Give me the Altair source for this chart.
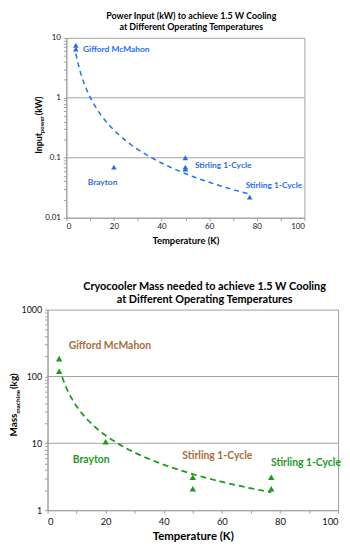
import altair as alt
import pandas as pd

FONT = "Lato"
BLUE = "#1f6fe8"
GREEN = "#1e9a1e"
BROWN = "#a86d3c"
FRAME = "#a0a0a0"

# ---------------- data: power input chart ----------------
power_temp = [4, 4, 20, 50, 50, 50, 77]
power_kw = [7.5, 6.5, 0.07, 0.1, 0.07, 0.065, 0.022]

power_label_text = ["Gifford McMahon", "Brayton", "Stirling 1-Cycle", "Stirling 1-Cycle"]
power_label_temp = [7.0, 9.0, 54.0, 75.3]
power_label_kw = [6.6, 0.040, 0.077, 0.035]

# ---------------- data: mass chart ----------------
mass_temp = [4, 4, 20, 50, 50, 77, 77]
mass_kg = [185, 120, 10.6, 3.1, 2.1, 3.1, 2.1]

mass_brown_text = ["Gifford McMahon", "Stirling 1-Cycle"]
mass_brown_temp = [7.3, 46.4]
mass_brown_kg = [288, 6.4]
mass_green_text = ["Brayton", "Stirling 1-Cycle"]
mass_green_temp = [8.7, 76.9]
mass_green_kg = [5.6, 5.0]

# ---------------- axis ticks ----------------
x_ticks = [0, 10, 20, 30, 40, 50, 60, 70, 80, 90, 100]
power_ticks = [0.01, 0.02, 0.03, 0.04, 0.05, 0.06, 0.07, 0.08, 0.09,
               0.1, 0.2, 0.3, 0.4, 0.5, 0.6, 0.7, 0.8, 0.9,
               1, 2, 3, 4, 5, 6, 7, 8, 9, 10]
power_decades = [0.01, 0.1, 1, 10]
power_grid = [0.1, 1]
mass_ticks = [1, 2, 3, 4, 5, 6, 7, 8, 9,
              10, 20, 30, 40, 50, 60, 70, 80, 90,
              100, 200, 300, 400, 500, 600, 700, 800, 900, 1000]
mass_decades = [1, 10, 100, 1000]
mass_grid = [10, 100]


def log_expr(decades):
    arr = ",".join(repr(d) for d in decades)
    return f"indexof([{arr}], datum.value) >= 0 ? format(datum.value, '~g') : ''"


X_EXPR = "datum.value % 20 == 0 ? format(datum.value, 'd') : ''"

# ======================= TOP CHART =======================
W1, H1 = 241, 182
power_df = pd.DataFrame({"T": power_temp, "P": power_kw})
power_lab_df = pd.DataFrame({"T": power_label_temp, "P": power_label_kw, "label": power_label_text})
power_grid_df = pd.DataFrame({"P": power_grid})

x1 = alt.X("T:Q", scale=alt.Scale(domain=[0, 100], nice=False),
           axis=alt.Axis(values=x_ticks, labelExpr=X_EXPR, title="Temperature (K)",
                         labelFontSize=8, titleFontSize=9.5, titleFontWeight="bold",
                         tickSize=3, labelPadding=2, titlePadding=5, grid=False))
y1 = alt.Y("P:Q", scale=alt.Scale(type="log", domain=[0.01, 10], nice=False),
           axis=alt.Axis(values=power_ticks, labelExpr=log_expr(power_decades),
                         labelFontSize=8, tickSize=3, labelPadding=3, grid=False),
           title=None)

grid1 = alt.Chart(power_grid_df).mark_rule(color=FRAME, strokeWidth=1).encode(y=y1)
curve1 = (alt.Chart(power_df)
          .transform_regression("T", "P", method="pow", extent=[4, 77])
          .mark_line(color=BLUE, strokeWidth=1.5, strokeDash=[5, 4])
          .encode(x=x1, y=y1))
pts1 = alt.Chart(power_df).mark_point(shape="triangle-up", filled=True, opacity=1,
                                       size=32, color=BLUE).encode(x=x1, y=y1)
lab1 = alt.Chart(power_lab_df).mark_text(align="left", baseline="middle", font=FONT,
                                         fontWeight="bold", fontSize=8.5, color=BLUE).encode(
    x=x1, y=y1, text="label:N")

one = pd.DataFrame({"k": [0]})
yc1 = 0.485 * H1
y0_1 = yc1 + 29
t1a = alt.Chart(one).mark_text(text="Input", angle=270, align="left", baseline="middle",
                               font=FONT, fontWeight="bold", fontSize=9, color="black").encode(
    x=alt.value(-28), y=alt.value(y0_1))
t1b = alt.Chart(one).mark_text(text="power", angle=270, align="left", baseline="middle",
                               font=FONT, fontWeight="bold", fontSize=6, color="black").encode(
    x=alt.value(-24.5), y=alt.value(y0_1 - 21))
t1c = alt.Chart(one).mark_text(text="(kW)", angle=270, align="left", baseline="middle",
                               font=FONT, fontWeight="bold", fontSize=9, color="black").encode(
    x=alt.value(-28), y=alt.value(y0_1 - 39))

top = alt.layer(grid1, curve1, pts1, lab1, t1a, t1b, t1c).properties(
    width=W1, height=H1,
    title=alt.TitleParams(["Power Input (kW) to achieve 1.5 W Cooling",
                           "at Different Operating Temperatures"],
                          font=FONT, fontSize=9, fontWeight="bold", color="black",
                          anchor="middle", frame="group", dx=6, offset=2, lineHeight=11))

spacer = alt.Chart(one).mark_point(opacity=0).encode(
    x=alt.X("k:Q", axis=None), y=alt.Y("k:Q", axis=None)).properties(
    width=19, height=1, view=alt.ViewBackground(strokeOpacity=0))

top_row = alt.hconcat(spacer, top, spacing=0, bounds="flush")

# ======================= BOTTOM CHART =======================
W2, H2 = 294, 203
mass_df = pd.DataFrame({"T": mass_temp, "M": mass_kg})
mass_brown_df = pd.DataFrame({"T": mass_brown_temp, "M": mass_brown_kg, "label": mass_brown_text})
mass_green_df = pd.DataFrame({"T": mass_green_temp, "M": mass_green_kg, "label": mass_green_text})
mass_grid_df = pd.DataFrame({"M": mass_grid})

x2 = alt.X("T:Q", scale=alt.Scale(domain=[0, 100], nice=False),
           axis=alt.Axis(values=x_ticks, labelExpr=X_EXPR, title="Temperature (K)",
                         labelFontSize=9.5, titleFontSize=11.5, titleFontWeight="bold",
                         tickSize=3, labelPadding=3, titlePadding=5, grid=False))
y2 = alt.Y("M:Q", scale=alt.Scale(type="log", domain=[1, 1000], nice=False),
           axis=alt.Axis(values=mass_ticks, labelExpr=log_expr(mass_decades),
                         labelFontSize=9, tickSize=3, labelPadding=3, grid=False),
           title=None)

grid2 = alt.Chart(mass_grid_df).mark_rule(color=FRAME, strokeWidth=1).encode(y=y2)
curve2 = (alt.Chart(mass_df)
          .transform_regression("T", "M", method="pow", extent=[5, 77])
          .mark_line(color=GREEN, strokeWidth=1.8, strokeDash=[6, 4])
          .encode(x=x2, y=y2))
pts2 = alt.Chart(mass_df).mark_point(shape="triangle-up", filled=True, opacity=1,
                                      size=42, color=GREEN).encode(x=x2, y=y2)
lab2a = alt.Chart(mass_brown_df).mark_text(align="left", baseline="middle", font=FONT,
                                           fontWeight="bold", fontSize=10.5, color=BROWN).encode(
    x=x2, y=y2, text="label:N")
lab2b = alt.Chart(mass_green_df).mark_text(align="left", baseline="middle", font=FONT,
                                           fontWeight="bold", fontSize=10.5, color=GREEN).encode(
    x=x2, y=y2, text="label:N")

yc2 = 0.48 * H2
y0_2 = yc2 + 31
t2a = alt.Chart(one).mark_text(text="Mass", angle=270, align="left", baseline="middle",
                               font=FONT, fontWeight="bold", fontSize=10, color="black").encode(
    x=alt.value(-34), y=alt.value(y0_2))
t2b = alt.Chart(one).mark_text(text="machine", angle=270, align="left", baseline="middle",
                               font=FONT, fontWeight="bold", fontSize=6.5, color="black").encode(
    x=alt.value(-30), y=alt.value(y0_2 - 23))
t2c = alt.Chart(one).mark_text(text="(kg)", angle=270, align="left", baseline="middle",
                               font=FONT, fontWeight="bold", fontSize=10, color="black").encode(
    x=alt.value(-34), y=alt.value(y0_2 - 48))

bottom = alt.layer(grid2, curve2, pts2, lab2a, lab2b, t2a, t2b, t2c).properties(
    width=W2, height=H2,
    title=alt.TitleParams(["Cryocooler Mass needed to achieve 1.5 W Cooling",
                           "at Different Operating Temperatures"],
                          font=FONT, fontSize=11, fontWeight="bold", color="black",
                          anchor="middle", frame="group", dx=12, offset=1, lineHeight=13))

chart = alt.vconcat(top_row, bottom, spacing=35).properties(
    padding=0
).configure_axis(
    labelFont=FONT, titleFont=FONT, domainColor=FRAME, tickColor=FRAME,
    labelColor="#111", titleColor="#000"
).configure_view(stroke=FRAME)

chart.save("out.html", embed_options={"renderer": "svg", "actions": False})
